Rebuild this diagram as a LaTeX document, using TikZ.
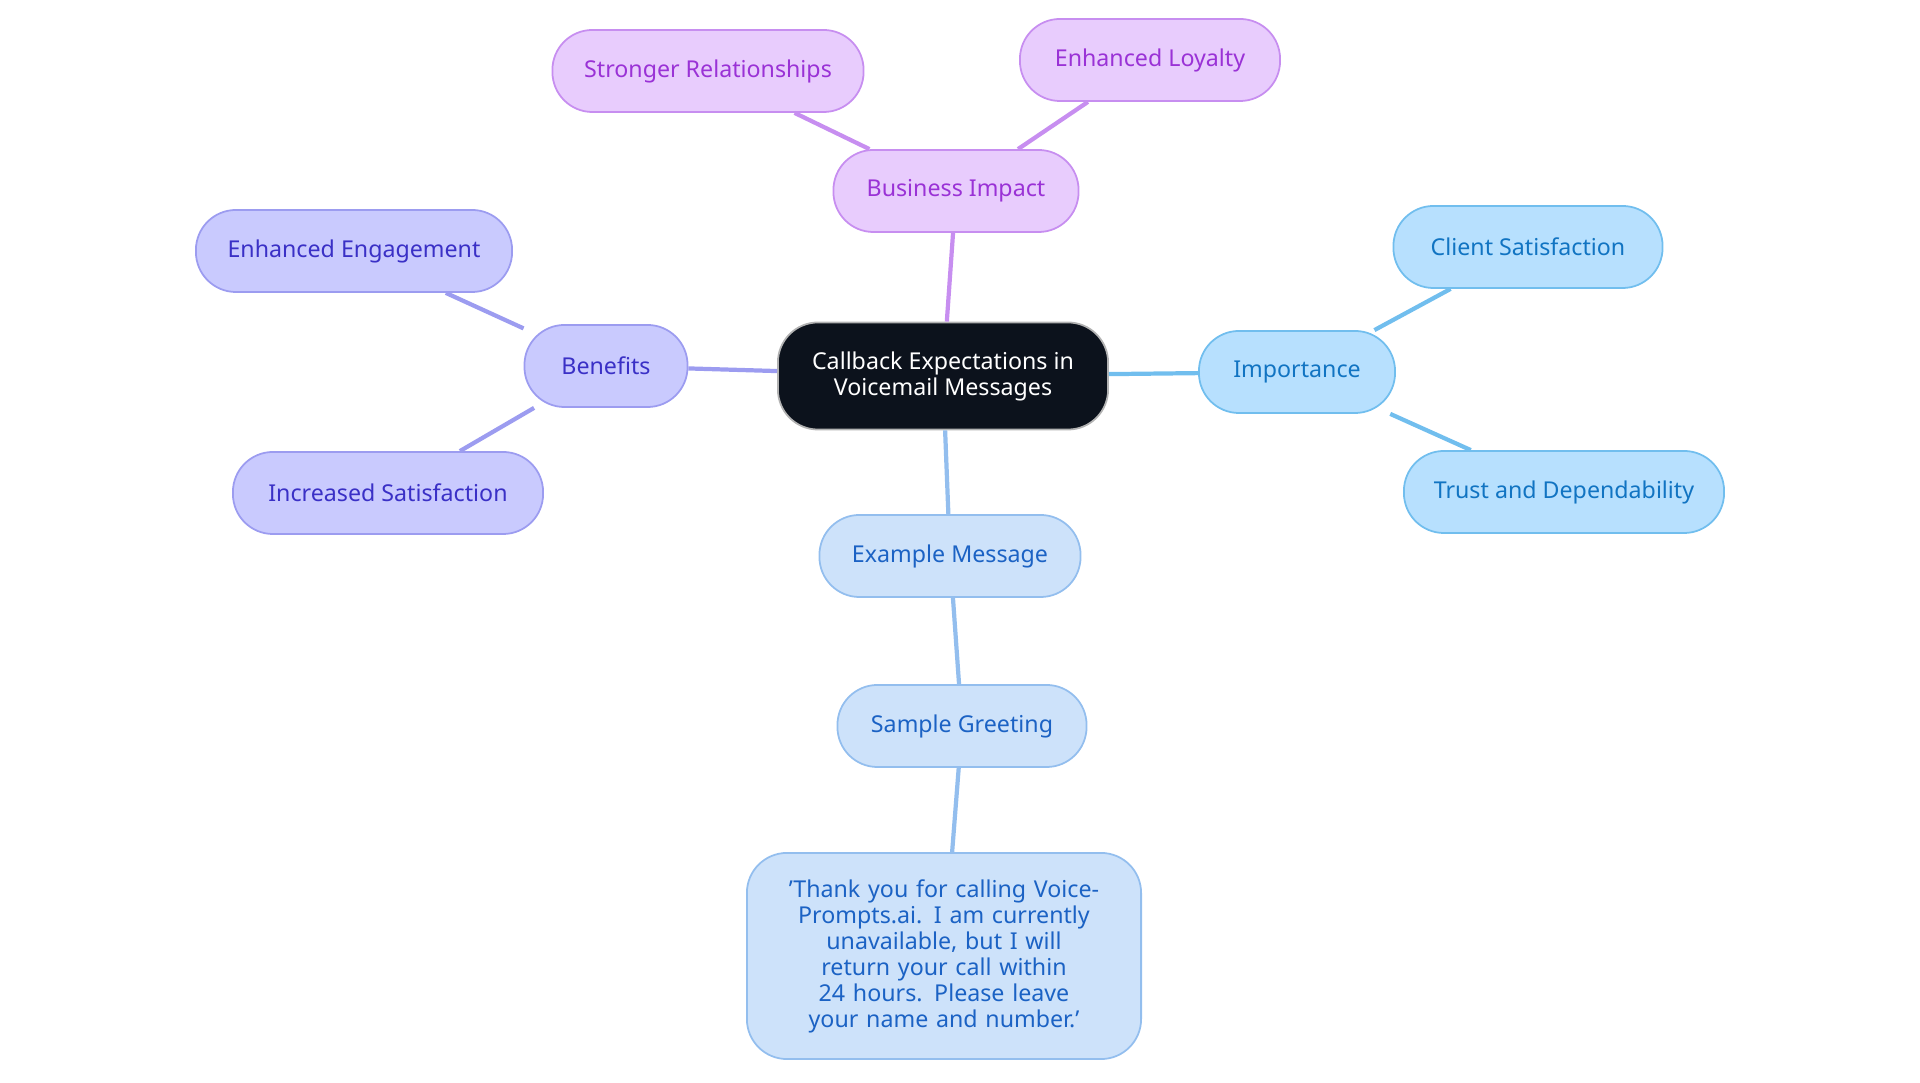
\documentclass[tikz,border=0pt]{standalone}
\usepackage{fontspec}
\setmainfont{Noto Sans}
\usetikzlibrary{positioning}
\definecolor{rootfill}{HTML}{0C121C}
\definecolor{bizfill}{HTML}{E8CCFD}\definecolor{bizline}{HTML}{C78EF0}\definecolor{biztext}{HTML}{9A32D6}
\definecolor{benfill}{HTML}{C9CAFE}\definecolor{benline}{HTML}{9C9CF0}\definecolor{bentext}{HTML}{3A30C6}
\definecolor{impfill}{HTML}{B7E0FE}\definecolor{impline}{HTML}{71BEEE}\definecolor{imptext}{HTML}{1174C2}
\definecolor{exfill}{HTML}{CDE2FA}\definecolor{exline}{HTML}{93BEEE}\definecolor{extext}{HTML}{1B62C4}

\begin{document}
\begin{tikzpicture}[
    x=0.01cm, y=-0.01cm,
    font=\fontsize{6.6pt}{7.4pt}\selectfont,
    box/.style={rectangle, rounded corners=0.4cm, draw, line width=0.5pt, minimum height=0.82cm, align=center},
    root/.style={box, fill=rootfill, draw=gray!60, text=white, minimum width=3.3cm, minimum height=1.07cm},
    biz/.style={box, fill=bizfill, draw=bizline, text=biztext},
    ben/.style={box, fill=benfill, draw=benline, text=bentext},
    imp/.style={box, fill=impfill, draw=impline, text=imptext},
    ex/.style={box, fill=exfill, draw=exline, text=extext},
    link/.style={line width=1.2pt}
]
    \useasboundingbox (0,0) rectangle (1920,1083);

    %% nodes
    \node [root] (root) at (943,376) {Callback Expectations in\\Voicemail Messages};

    \node [biz, minimum width=2.45cm] (business) at (956,191) {Business Impact};
    \node [biz, minimum width=3.11cm] (relations) at (708,71) {Stronger Relationships};
    \node [biz, minimum width=2.6cm] (loyalty) at (1150,60) {Enhanced Loyalty};

    \node [ben, minimum width=1.63cm] (benefits) at (606,366) {Benefits};
    \node [ben, minimum width=3.16cm] (engage) at (354,251) {Enhanced Engagement};
    \node [ben, minimum width=3.1cm] (satisf) at (388,493) {Increased Satisfaction};

    \node [imp, minimum width=1.96cm] (importance) at (1297,372) {Importance};
    \node [imp, minimum width=2.69cm] (client) at (1528,247) {Client Satisfaction};
    \node [imp, minimum width=3.2cm] (trust) at (1564,492) {Trust and Dependability};

    \node [ex, minimum width=2.61cm] (example) at (950,556) {Example Message};
    \node [ex, minimum width=2.49cm] (greeting) at (962,726) {Sample Greeting};
    \node [ex, minimum width=3.94cm, minimum height=2.06cm, text width=3.4cm] (quote) at (944,956)
        {'Thank you for calling VoicePrompts.ai. I am currently unavailable, but I will return your call within 24 hours. Please leave your name and number.'};

    %% links
    \begin{scope}[on background layer/.style={}]
    \draw [link, draw=bizline] (root) -- (business);
    \draw [link, draw=bizline] (business) -- (relations);
    \draw [link, draw=bizline] (business) -- (loyalty);
    \draw [link, draw=benline] (root) -- (benefits);
    \draw [link, draw=benline] (benefits) -- (engage);
    \draw [link, draw=benline] (benefits) -- (satisf);
    \draw [link, draw=impline] (root) -- (importance);
    \draw [link, draw=impline] (importance) -- (client);
    \draw [link, draw=impline] (importance) -- (trust);
    \draw [link, draw=exline] (root) -- (example);
    \draw [link, draw=exline] (example) -- (greeting);
    \draw [link, draw=exline] (greeting) -- (quote);
    \end{scope}
\end{tikzpicture}
\end{document}
